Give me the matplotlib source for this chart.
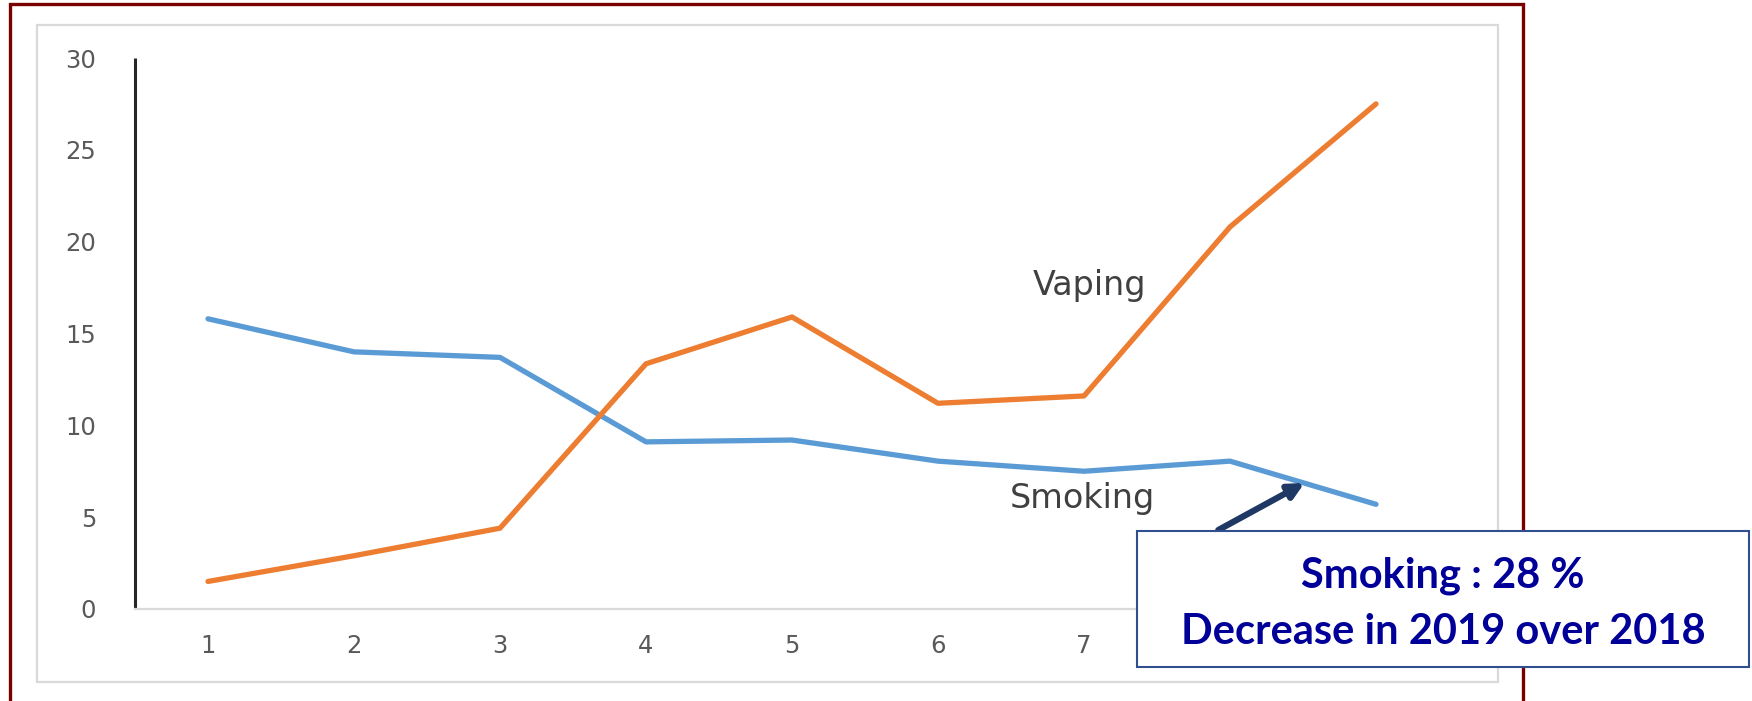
import matplotlib.pyplot as plt
from matplotlib.patches import Rectangle

# Series values (percent), points 1..9
points = [1, 2, 3, 4, 5, 6, 7, 8, 9]
smoking = [15.8, 14.0, 13.7, 9.1, 9.2, 8.05, 7.5, 8.05, 5.7]
vaping = [1.5, 2.9, 4.4, 13.35, 15.9, 11.2, 11.6, 20.8, 27.5]
y_ticks = [0, 5, 10, 15, 20, 25, 30]

W, H = 1752, 701


def fx(px):
    return px / W


def fy(py):
    return 1 - py / H


fig = plt.figure(figsize=(W / 100, H / 100), dpi=100)
fig.patch.set_facecolor('white')

# outer dark red frame and inner light grey chart box
fig.patches.append(Rectangle((fx(10), fy(720)), fx(1523) - fx(10), fy(4.5) - fy(720),
                             transform=fig.transFigure, fill=False,
                             edgecolor='#7A0000', linewidth=2.4, zorder=0))
fig.patches.append(Rectangle((fx(37), fy(682)), fx(1498) - fx(37), fy(25) - fy(682),
                             transform=fig.transFigure, fill=False,
                             edgecolor='#D9D9D9', linewidth=1.6, zorder=0))

ax = fig.add_axes([fx(135), fy(609), fx(1449) - fx(135), fy(58) - fy(609)])
ax.set_facecolor('none')

ax.plot(points, smoking, color='#5B9BD5', linewidth=3.8, solid_capstyle='round')
ax.plot(points, vaping, color='#ED7D31', linewidth=3.8, solid_capstyle='round')

ax.set_xlim(0.5, 9.5)
ax.set_ylim(0, 30)
ax.set_xticks(points)
ax.set_yticks(y_ticks)
ax.tick_params(length=0, labelsize=17.5, labelcolor='#595959')
ax.tick_params(axis='y', pad=28)
ax.tick_params(axis='x', pad=18)

# labels 8 and 9 sit under the call-out box
for lbl in ax.get_xticklabels()[7:]:
    lbl.set_visible(False)

for side in ['top', 'right']:
    ax.spines[side].set_visible(False)
ax.spines['left'].set_color('#262626')
ax.spines['left'].set_linewidth(2.2)
ax.spines['left'].set_capstyle('butt')
ax.spines['bottom'].set_color('#D9D9D9')
ax.spines['bottom'].set_linewidth(1.6)

# series labels
ax.text(7.04, 17.6, 'Vaping', fontsize=24, color='#404040',
        ha='center', va='center')
ax.text(6.99, 6.0, 'Smoking', fontsize=24, color='#404040',
        ha='center', va='center')

# arrow pointing to the last smoking segment
ax.annotate('', xy=(8.51, 6.86), xytext=(7.92, 4.3), annotation_clip=False,
            arrowprops=dict(arrowstyle='-|>,head_length=0.9,head_width=0.45',
                            color='#1F3864', lw=4.5, shrinkA=0, shrinkB=0))

# call-out box
fig.patches.append(Rectangle((fx(1137), fy(667)), fx(1749) - fx(1137), fy(531) - fy(667),
                             transform=fig.transFigure, facecolor='white',
                             edgecolor='#2F4F8F', linewidth=1.5, zorder=5))
fig.text(fx(1443), fy(576), 'Smoking : 28 %', fontsize=30, fontweight='bold',
         family='Lato', color='#000099', ha='center', va='center', zorder=6)
fig.text(fx(1443), fy(632), 'Decrease in 2019 over 2018', fontsize=30, fontweight='bold',
         family='Lato', color='#000099', ha='center', va='center', zorder=6)

fig.savefig('out.png', dpi=100)
